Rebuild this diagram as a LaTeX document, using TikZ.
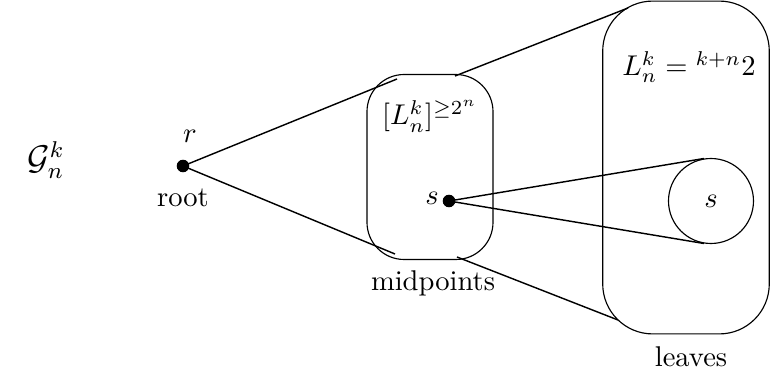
\documentclass[tikz,border=0pt]{standalone}
\usepackage{amsmath,amssymb}
\usetikzlibrary{calc}
\begin{document}
\begin{tikzpicture}[x=0.35pt,y=-0.35pt,
  dotnode/.style={circle,fill=black,inner sep=0pt,minimum size=4.4pt},
  group/.style={draw,rectangle,inner sep=0pt},
  lbl/.style={inner sep=1pt},
  edge/.style={draw,line width=0.5pt}]
\useasboundingbox (0,0) rectangle (771,376);
% containers
\node[group,rounded corners=13pt,minimum width=44.1pt,minimum height=64.75pt] (mid) at (430,167) {};
\node[group,rounded corners=17.5pt,minimum width=58.3pt,minimum height=116.5pt] (leaf) at (686,167.5) {};
\node[draw,circle,inner sep=0pt,minimum size=29.75pt] (c) at (711,201) {$s$};
% dots
\node[dotnode] (r) at (183,166) {};
\node[dotnode] (s) at (449,201) {};
% labels
\node[lbl] (G) at (46,160) {\large $\mathcal{G}_n^k$};
\node[lbl] (rl) at (190,136) {$r$};
\node[lbl] (rootl) at (183,198) {root};
\node[lbl] (sl) at (432,198) {$s$};
\node[lbl] (midl) at (433,283) {midpoints};
\node[lbl] (ml) at (430,116) {$[L_n^k]^{\geq 2^n}$};
\node[lbl] (ll) at (689,67) {$L_n^k = {}^{k+n}2$};
\node[lbl] (leavesl) at (691,357) {leaves};
% tangent points
\coordinate (m1) at (397,79);
\coordinate (m2) at (395,254);
\coordinate (m3) at (455,76);
\coordinate (m4) at (457,257);
\coordinate (l1) at (628,8);
\coordinate (l2) at (618,320);
% connectors
\draw[edge] (r.center) -- (m1);
\draw[edge] (r.center) -- (m2);
\draw[edge] (m3) -- (l1);
\draw[edge] (m4) -- (l2);
\draw[edge] (s.center) -- (tangent cs:node=c,point={(s.center)},solution=1);
\draw[edge] (s.center) -- (tangent cs:node=c,point={(s.center)},solution=2);
\end{tikzpicture}
\end{document}
